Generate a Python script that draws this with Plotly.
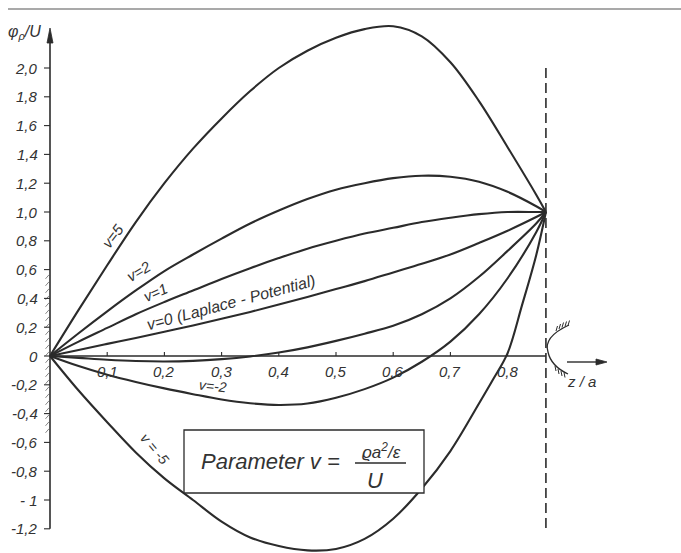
import plotly.graph_objects as go

# Potential along the axis, phi_p/U versus z/a, for several values of the
# space-charge parameter v = rho a^2 / (eps U).
z_grid = [0, 0.05, 0.10, 0.15, 0.20, 0.25, 0.30, 0.35, 0.40, 0.45, 0.50,
          0.55, 0.60, 0.65, 0.70, 0.75, 0.80, 0.85, 0.867]

phi_v5 = [0, 0.32, 0.63, 0.93, 1.20, 1.44, 1.65, 1.84, 2.00, 2.12, 2.21,
          2.27, 2.29, 2.22, 2.04, 1.77, 1.45, 1.12, 1.0]
phi_v2 = [0, 0.158, 0.31, 0.455, 0.59, 0.705, 0.815, 0.92, 1.01, 1.09, 1.155,
          1.20, 1.235, 1.252, 1.245, 1.21, 1.14, 1.04, 1.0]
phi_v1 = [0, 0.10, 0.195, 0.29, 0.375, 0.455, 0.535, 0.61, 0.68, 0.745, 0.80,
          0.85, 0.89, 0.93, 0.96, 0.985, 1.0, 1.0, 1.0]
phi_v0 = [0, 0.042, 0.084, 0.125, 0.168, 0.212, 0.258, 0.306, 0.357, 0.41, 0.465,
          0.52, 0.58, 0.64, 0.705, 0.785, 0.87, 0.965, 1.0]
phi_vm1 = [0, -0.013, -0.026, -0.035, -0.038, -0.034, -0.022, -0.003, 0.024, 0.06, 0.105,
           0.155, 0.21, 0.29, 0.40, 0.55, 0.73, 0.92, 1.0]
phi_vm2 = [0, -0.07, -0.13, -0.18, -0.225, -0.265, -0.302, -0.328, -0.34, -0.33, -0.29,
           -0.23, -0.15, -0.04, 0.10, 0.29, 0.54, 0.86, 1.0]

z_vm5 = [0, 0.05, 0.10, 0.15, 0.20, 0.25, 0.30, 0.35, 0.40, 0.45, 0.50,
         0.55, 0.60, 0.65, 0.70, 0.75, 0.775, 0.80, 0.825, 0.85, 0.867]
phi_vm5 = [0, -0.24, -0.46, -0.67, -0.85, -1.0, -1.15, -1.26, -1.32, -1.35, -1.34,
           -1.27, -1.13, -0.92, -0.66, -0.33, -0.16, 0.02, 0.35, 0.70, 1.0]

curves = [
    (z_grid, phi_v5), (z_grid, phi_v2), (z_grid, phi_v1), (z_grid, phi_v0),
    (z_grid, phi_vm1), (z_grid, phi_vm2), (z_vm5, phi_vm5),
]

y_ticks = [2.0, 1.8, 1.6, 1.4, 1.2, 1.0, 0.8, 0.6, 0.4, 0.2, 0,
           -0.2, -0.4, -0.6, -0.8, -1.0, -1.2]
y_tick_labels = ["2,0", "1,8", "1,6", "1,4", "1,2", "1,0", "0,8", "0,6", "0,4", "0,2", "0",
                 "-0,2", "-0,4", "-0,6", "-0,8", "- 1", "-1,2"]
x_ticks = [0.1, 0.2, 0.3, 0.4, 0.5, 0.6, 0.7, 0.8]
x_tick_labels = ["0,1", "0,2", "0,3", "0,4", "0,5", "0,6", "0,7", "0,8"]

z_electrode = 0.867  # position of the counter electrode (dashed line)

W, H = 681, 553
X0, Y0 = 50, 356          # pixel position of the origin
SX, SY = 572.0, 144.0     # pixels per unit along z/a and phi/U
x_range = [-X0 / SX, (W - X0) / SX]
y_range = [-(H - Y0) / SY, Y0 / SY]


def zx(px):
    return (px - X0) / SX


def py(pxy):
    return (Y0 - pxy) / SY


INK = "#2b2b2b"
TXT = "#333333"
FONT = "Liberation Sans"

fig = go.Figure()
for zs, ps in curves:
    fig.add_trace(go.Scatter(
        x=zs, y=ps, mode="lines",
        line=dict(color=INK, width=2.1, shape="spline", smoothing=1.0),
        hoverinfo="skip", showlegend=False,
    ))

shapes = []
ann = []


def line(x0, y0, x1, y1, width=1.2, color=INK, dash=None):
    d = dict(color=color, width=width)
    if dash:
        d["dash"] = dash
    shapes.append(dict(type="line", xref="x", yref="y", x0=x0, y0=y0, x1=x1, y1=y1, line=d))


def text(x, y, s, size, angle=0, xanchor="center"):
    ann.append(dict(x=x, y=y, xref="x", yref="y", text=s, showarrow=False,
                    textangle=angle, xanchor=xanchor, yanchor="middle",
                    font=dict(family=FONT, size=size, color=TXT, style="italic")))


# frame rule at the top of the page
line(zx(8), py(9), zx(681), py(9), width=1.2, color="#555")

# ordinate axis with arrow head
line(0, -1.2, 0, py(40), width=1.6)
shapes.append(dict(type="path", xref="x", yref="y",
                   path=f"M{zx(47)},{py(43)} L{zx(50)},{py(28)} L{zx(53)},{py(43)} Z",
                   fillcolor=INK, line=dict(color=INK, width=0.8)))

# abscissa up to the electrode
line(0, 0, z_electrode, 0, width=1.4)

# hatching of the electrode wall along the ordinate
hatch = ""
yy = 0.55
while yy > -0.53:
    hatch += f"M{zx(45.5)},{yy - 2 / SY} L{zx(49)},{yy + 2 / SY} "
    yy -= 7 / SY
shapes.append(dict(type="path", xref="x", yref="y", path=hatch,
                   line=dict(color="#666", width=0.8)))

# y ticks and labels
for v, lab in zip(y_ticks, y_tick_labels):
    line(zx(44), v, 0, v, width=1.1)
    text(zx(40), v, lab, 15, xanchor="right")

# x ticks and labels
for v, lab in zip(x_ticks, x_tick_labels):
    line(v, 0, v, 4 / SY, width=1.1)
    text(v, py(371), lab, 15)

# dashed line of the counter electrode
line(z_electrode, 2.0, z_electrode, -1.2, width=1.6, dash="10px,5px")

# electrode tip symbol with hatching
tip = (f"M{zx(569)},{py(325)} Q{zx(543)},{py(337)} {zx(548)},{py(352)} "
       f"Q{zx(551)},{py(366)} {zx(568)},{py(374)}")
shapes.append(dict(type="path", xref="x", yref="y", path=tip, line=dict(color=INK, width=1.3)))
tip_hatch = ""
for xh, yh in [(556, 331), (559, 329), (562, 327.5), (565, 326.5), (568, 325.5)]:
    tip_hatch += f"M{zx(xh)},{py(yh)} L{zx(xh + 1.5)},{py(yh - 5)} "
for xh, yh in [(555, 366), (558, 369), (561, 371), (564, 372.5)]:
    tip_hatch += f"M{zx(xh)},{py(yh)} L{zx(xh + 1)},{py(yh + 5)} "
shapes.append(dict(type="path", xref="x", yref="y", path=tip_hatch,
                   line=dict(color=INK, width=1.0)))

# z/a arrow and label
line(zx(567), py(362), zx(598), py(362), width=1.4)
shapes.append(dict(type="path", xref="x", yref="y",
                   path=f"M{zx(596)},{py(359)} L{zx(607)},{py(362)} L{zx(596)},{py(365)} Z",
                   fillcolor=INK, line=dict(color=INK, width=0.8)))
text(zx(581), py(381), "z / a", 15)

# ordinate title
text(zx(24), py(32), "φ<sub>ρ</sub>/U", 16)

# curve labels
for txt, xp, yp, ang, size in [
    ("v=5", 112, 236, -53, 15),
    ("v=2", 138, 271, -31, 15),
    ("v=1", 155, 292, -24, 15),
    ("v=0 (Laplace - Potential)", 231, 302, -15, 16),
    ("v=-2", 213, 386, 6, 14),
    ("v = -5", 155, 449, 50, 14),
]:
    text(zx(xp), py(yp), txt, size, angle=ang)

# parameter box
shapes.append(dict(type="rect", xref="x", yref="y", x0=zx(184), x1=zx(424), y0=py(430),
                   y1=py(493), line=dict(color=INK, width=1.3), fillcolor="white"))
text(zx(199), py(461), "Parameter v =", 22, xanchor="left")
text(zx(381), py(451), "ϱa<sup>2</sup>/ε", 17)
line(zx(355), py(463), zx(406), py(463), width=1.3)
text(zx(375), py(480), "U", 22)

fig.update_layout(
    width=W, height=H,
    margin=dict(l=0, r=0, t=0, b=0),
    paper_bgcolor="white", plot_bgcolor="white",
    xaxis=dict(range=x_range, visible=False, fixedrange=True),
    yaxis=dict(range=y_range, visible=False, fixedrange=True),
    shapes=shapes, annotations=ann, showlegend=False,
)

fig.write_html("out.html")
